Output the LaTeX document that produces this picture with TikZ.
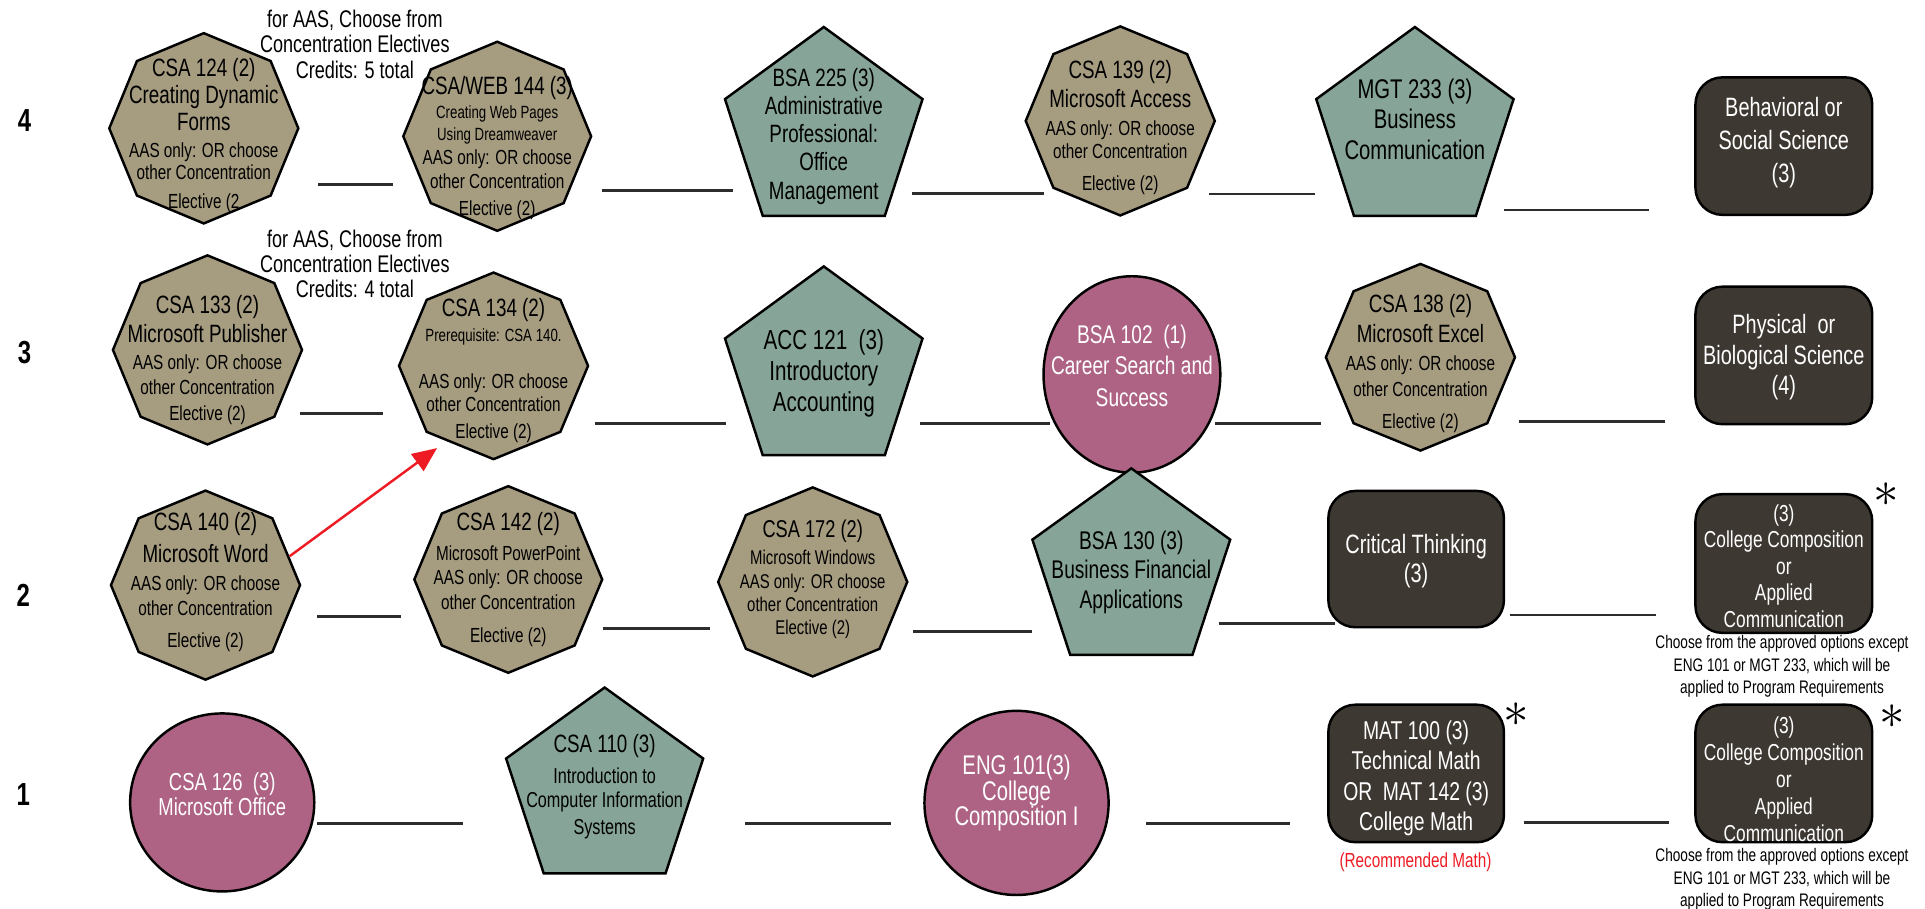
\documentclass[tikz,border=0pt]{standalone}
\usepackage{fontspec}
\setmainfont{Liberation Sans}[FakeStretch=0.75]
\usepackage{xcolor}
\usepackage{tikz}
\usetikzlibrary{calc, arrows.meta}
\definecolor{Tan}{RGB}{166,156,128}
\definecolor{Sage}{RGB}{134,164,152}
\definecolor{Mauve}{RGB}{174,99,132}
\definecolor{Umber}{RGB}{62,56,50}
\definecolor{AlertRed}{RGB}{237,28,36}
\definecolor{Link}{RGB}{45,45,45}
\newcommand*{\hdsize}{\fontsize{10.2}{11}\selectfont}
\newcommand*{\elsize}{\fontsize{8.3}{10}\selectfont}
\newcommand*{\smsize}{\fontsize{7.2}{8.6}\selectfont}
\newcommand*{\notesize}{\fontsize{7.4}{9.2}\selectfont}
\newcommand*{\annsize}{\fontsize{9.8}{10.3}\selectfont}
\tikzset{
	shapeline/.style={draw=black, line width=1pt},
	octshape/.style={shapeline, fill=Tan},
	pentshape/.style={shapeline, fill=Sage},
	ellshape/.style={shapeline, fill=Mauve},
	boxshape/.style={shapeline, fill=Umber, rounded corners=11pt},
	lbl/.style={align=center, inner sep=0pt},
	wlbl/.style={lbl, text=white},
	link/.style={draw=Link, line width=1.1pt},
	prereq/.style={draw=AlertRed, line width=1pt, -{Triangle[length=10pt, width=8.5pt]}},
	rowlbl/.style={font=\fontsize{13}{13}\selectfont\bfseries},
	starmark/.style={inner sep=0pt, font=\fontsize{20}{20}\selectfont},
}
% shapes: centre, x radius, y radius (box: width, height)
\newcommand*{\drawoct}[3]{\draw[octshape, shift={(#1)}] (90:#2 and #3) \foreach \a in {135,180,...,405} {-- (\a:#2 and #3)} -- cycle;}
\newcommand*{\drawpent}[3]{\draw[pentshape, shift={(#1)}] (270:#2 and #3) \foreach \a in {342,414,486,558} {-- (\a:#2 and #3)} -- cycle;}
\newcommand*{\drawell}[3]{\draw[ellshape] (#1) ellipse [x radius={#2*0.5pt}, y radius={#3*0.5pt}];}
\newcommand*{\drawbox}[3]{\draw[boxshape, shift={(#1)}] (-#2/2,-#3/2) rectangle (#2/2,#3/2);}

\begin{document}
\begin{tikzpicture}[x=0.5pt, y=-0.5pt]
\useasboundingbox (0,0) rectangle (1568,740);

\node[rowlbl] (row4) at (20,98) {4};
\node[rowlbl] (row3) at (20,287) {3};
\node[rowlbl] (row2) at (19,485) {2};
\node[rowlbl] (row1) at (19,647) {1};

\foreach \xa/\xb/\yy in {259/320/150, 490/597/155, 743/850/157.6, 985/1071/158, 1225/1343.5/171,
	244/312/337, 485/591/345, 749/855/345, 990/1076/345, 1237/1356/343.6,
	258.6/326.5/502, 491/578/512, 744/840.5/514.6, 992.7/1087.8/507.8, 1230/1349/501,
	258.6/377.3/670.7, 607/725.8/670.7, 933.5/1051/670.7, 1241/1359.3/670}
	\draw[link] (\xa,\yy) -- (\xb,\yy);

% row 4
\node[lbl, font=\annsize] (elect5) at (289,36) {for AAS, Choose from\\Concentration Electives\\Credits: 5 total};
\drawoct{166,104.5}{77}{77.5}
\node[lbl, font=\elsize] (csa124) at (166,110.5) {{\hdsize CSA 124 (2)}\\[1pt]{\hdsize Creating Dynamic}\\[1pt]{\hdsize Forms}\\[1pt]AAS only: OR choose\\[-1pt]other Concentration\\[2pt]Elective (2};
\drawoct{405,111}{76.5}{77}
\node[lbl, font=\elsize] (csa144) at (405,120.5) {{\hdsize CSA/WEB 144 (3)}\\{\smsize Creating Web Pages}\\[-1pt]{\smsize Using Dreamweaver}\\[-0.5pt]AAS only: OR choose\\other Concentration\\[1pt]Elective (2)};
\drawpent{671,107}{84.6}{85}
\node[lbl, font=\fontsize{10.2}{11.5}\selectfont] (bsa225) at (671,111) {BSA 225 (3)\\Administrative\\Professional:\\Office\\Management};
\drawoct{912.5,98.5}{77}{77}
\node[lbl, font=\elsize] (csa139) at (912.5,104) {{\hdsize CSA 139 (2)}\\[1.5pt]{\hdsize Microsoft Access}\\[1.5pt]AAS only: OR choose\\[-0.5pt]other Concentration\\[3pt]Elective (2)};
\drawpent{1152.5,107}{84.5}{85}
\node[lbl, font=\fontsize{11}{12.5}\selectfont] (mgt233) at (1152.5,97) {MGT 233 (3)\\Business\\Communication};
\drawbox{1453,119}{144}{112}
\node[wlbl, font=\fontsize{10.8}{13.5}\selectfont] (behav) at (1453,116) {Behavioral or\\Social Science\\(3)};

% row 3
\node[lbl, font=\annsize] (elect4) at (289,215) {for AAS, Choose from\\Concentration Electives\\Credits: 4 total};
\drawoct{169,285}{77}{77}
\node[lbl, font=\elsize] (csa133) at (169,293) {{\hdsize CSA 133 (2)}\\[2pt]{\hdsize Microsoft Publisher}\\[1pt]AAS only: OR choose\\other Concentration\\[0.5pt]Elective (2)};
\drawoct{402,298}{77}{76}
\node[lbl, font=\elsize] (csa134) at (402,302) {{\hdsize CSA 134 (2)}\\{\smsize Prerequisite: CSA 140.}\\[9pt]AAS only: OR choose\\[-0.5pt]other Concentration\\[1pt]Elective (2)};
\drawpent{671,302}{84.6}{85}
\node[lbl, font=\fontsize{11.2}{12.5}\selectfont] (acc121) at (671,304) {ACC 121~~(3)\\Introductory\\Accounting};
\drawell{922,305}{72}{80}
\node[wlbl, font=\fontsize{10.4}{12.8}\selectfont] (bsa102) at (922,298) {BSA 102~~(1)\\Career Search and\\Success};
\drawoct{1157,291}{77}{76}
\node[lbl, font=\elsize] (csa138) at (1157,296) {{\hdsize CSA 138 (2)}\\[2.5pt]{\hdsize Microsoft Excel}\\[1.5pt]AAS only: OR choose\\[0.5pt]other Concentration\\[3pt]Elective (2)};
\drawbox{1453,289.5}{144}{112}
\node[wlbl, font=\fontsize{10.8}{12.5}\selectfont] (physci) at (1453,291) {Physical~~or\\Biological Science\\(4)};

% row 2
\drawoct{167.4,476.6}{77}{77}
\node[lbl, font=\elsize] (csa140) at (167.4,474) {{\hdsize CSA 140 (2)}\\[3pt]{\hdsize Microsoft Word}\\[1.5pt]AAS only: OR choose\\other Concentration\\[3pt]Elective (2)};
\drawoct{414,472}{76.5}{76}
\node[lbl, font=\elsize] (csa142) at (414,472) {{\hdsize CSA 142 (2)}\\[2.5pt]Microsoft PowerPoint\\[-0.5pt]AAS only: OR choose\\[0.25pt]other Concentration\\[3.5pt]Elective (2)};
\drawoct{662,474}{77}{77}
\node[lbl, font=\fontsize{8.1}{9.5}\selectfont] (csa172) at (662,472) {{\fontsize{9.9}{10}\selectfont CSA 172 (2)}\\[1.5pt]Microsoft Windows\\AAS only: OR choose\\other Concentration\\Elective (2)};
\drawpent{921.5,465.5}{84.7}{84}
\node[lbl, font=\fontsize{10.4}{12}\selectfont] (bsa130) at (921.5,466) {BSA 130 (3)\\Business Financial\\Applications};
\drawbox{1153.5,455.4}{143}{111}
\node[wlbl, font=\fontsize{10.8}{11.8}\selectfont] (crit) at (1153.5,457) {Critical Thinking\\(3)};
\drawbox{1453,459}{144}{113}
\node[wlbl, font=\fontsize{9.4}{10.8}\selectfont] (comp2) at (1453,461) {(3)\\College Composition\\or\\Applied\\Communication};
\node[starmark] (ast2) at (1536,403) {$\ast$};
\node[lbl, font=\notesize] (note2) at (1451.5,543) {Choose from the approved options except\\ENG 101 or MGT 233, which will be\\applied to Program Requirements};

\draw[prereq] ($(csa140.center)+(68.6,-21)$) -- ($(csa134.center)+(-46,63)$);

% row 1
\drawell{181,653.6}{75}{72.5}
\node[wlbl, font=\fontsize{10}{10.5}\selectfont] (csa126) at (181,647) {CSA 126~~(3)\\Microsoft Office};
\drawpent{492.5,643.7}{84.4}{83.7}
\node[lbl, font=\fontsize{8.8}{10}\selectfont] (csa110) at (492.5,641) {{\hdsize CSA 110 (3)}\\[2.5pt]Introduction to\\Computer Information\\[1pt]Systems};
\drawell{828,654}{75}{75}
\node[wlbl, font=\fontsize{11}{10.5}\selectfont] (eng101) at (828,646) {ENG 101(3)\\College\\Composition I};
\drawbox{1153.5,630}{143}{112}
\node[wlbl, font=\fontsize{10.5}{12.3}\selectfont] (math) at (1153.5,634) {MAT 100 (3)\\Technical Math\\OR~~MAT 142 (3)\\College Math};
\node[starmark] (ast1) at (1235,582) {$\ast$};
\node[lbl, text=AlertRed, font=\fontsize{8.3}{10}\selectfont] (recmath) at (1153,702) {(Recommended Math)};
\drawbox{1453,630}{144}{112}
\node[wlbl, font=\fontsize{9.4}{11}\selectfont] (comp1) at (1453,635) {(3)\\College Composition\\or\\Applied\\Communication};
\node[starmark] (ast3) at (1541,584) {$\ast$};
\node[lbl, font=\notesize] (note1) at (1451.5,716.5) {Choose from the approved options except\\ENG 101 or MGT 233, which will be\\applied to Program Requirements};

\end{tikzpicture}
\end{document}
